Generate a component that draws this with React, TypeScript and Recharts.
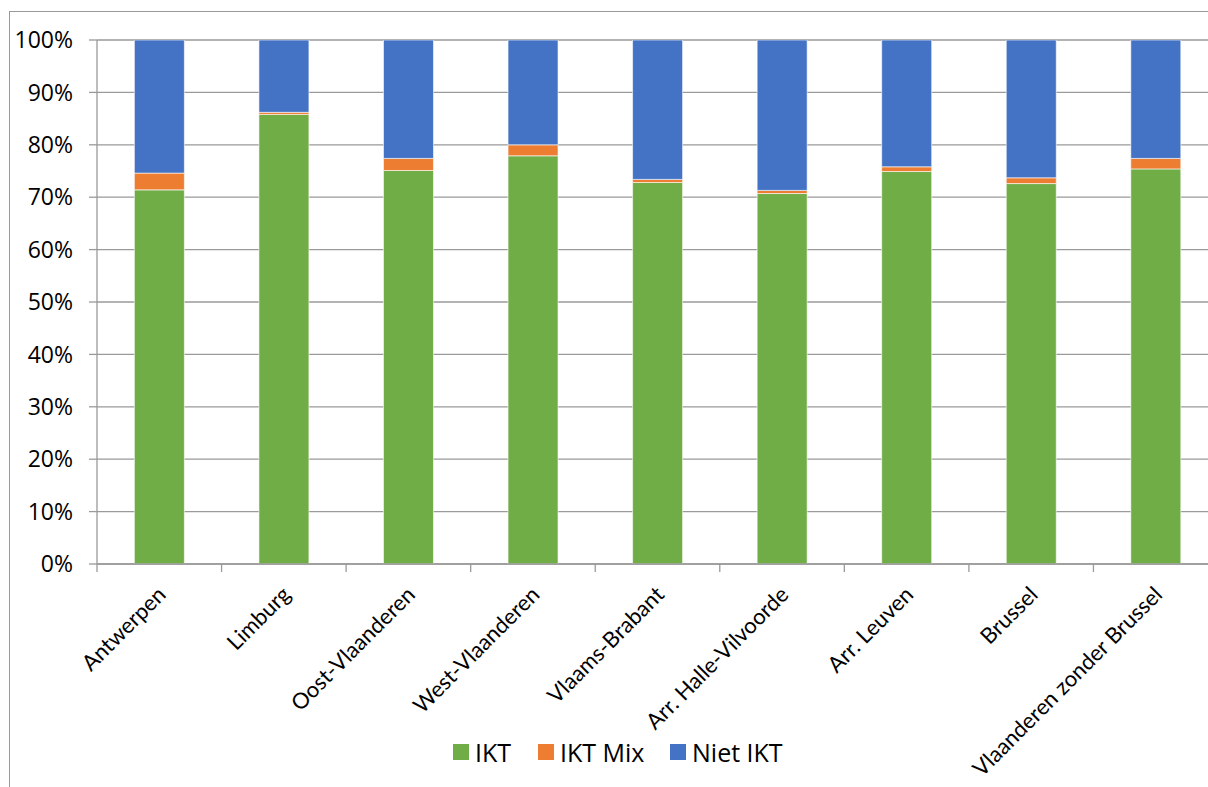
import React from 'react';
import { BarChart, Bar, XAxis, YAxis, CartesianGrid } from 'recharts';

const categories = [
  'Antwerpen',
  'Limburg',
  'Oost-Vlaanderen',
  'West-Vlaanderen',
  'Vlaams-Brabant',
  'Arr. Halle-Vilvoorde',
  'Arr. Leuven',
  'Brussel',
  'Vlaanderen zonder Brussel',
];
const iktValues = [71.4, 85.8, 75.1, 77.9, 72.8, 70.7, 74.9, 72.6, 75.4];
const iktMixValues = [3.2, 0.4, 2.3, 2.1, 0.6, 0.6, 0.9, 1.1, 2.0];
const nietIktValues = [25.4, 13.8, 22.6, 20.0, 26.6, 28.7, 24.2, 26.3, 22.6];
const yTicks = [0, 10, 20, 30, 40, 50, 60, 70, 80, 90, 100];

const series = [
  { key: 'ikt', name: 'IKT', color: '#70AD47', w: 85 },
  { key: 'mix', name: 'IKT Mix', color: '#ED7D31', w: 132 },
  { key: 'niet', name: 'Niet IKT', color: '#4472C4', w: 130 },
];

const data = categories.map((name, i) => ({
  name,
  ikt: iktValues[i],
  mix: iktMixValues[i],
  niet: nietIktValues[i],
}));

const FONT = '"Open Sans", sans-serif';
const LABEL_FONT = 'Lato, "Open Sans", sans-serif';
const AXIS_GRAY = '#9a9a9a';
const CHART_W = 1240;
const CHART_H = 800;
const PLOT_LEFT = 97;
const PLOT_RIGHT = 1218;
const BAND = (PLOT_RIGHT - PLOT_LEFT) / categories.length;

const XTick = (props: any) => {
  const { x, y, payload, index } = props;
  const last = index === categories.length - 1;
  const ax = x + 8;
  const ay = y + 32;
  return (
    <g>
      <line x1={x - BAND / 2} x2={x - BAND / 2} y1={y} y2={y + 8} stroke={AXIS_GRAY} strokeWidth={1.3} />
      {last && (
        <line x1={x + BAND / 2} x2={x + BAND / 2} y1={y} y2={y + 8} stroke={AXIS_GRAY} strokeWidth={1.3} />
      )}
      <text
        x={ax}
        y={ay}
        textAnchor="end"
        transform={`rotate(-45, ${ax}, ${ay})`}
        fontFamily={LABEL_FONT}
        fontSize={22}
        fill="#000"
      >
        {payload.value}
      </text>
    </g>
  );
};

export default function App() {
  return (
    <div style={{ position: 'fixed', left: 0, top: 0, width: 1208, height: 787, overflow: 'hidden', background: '#fff' }}>
      <div
        style={{
          position: 'absolute',
          left: 9,
          top: 11,
          width: 1400,
          height: 1000,
          borderLeft: `1.5px solid ${AXIS_GRAY}`,
          borderTop: `1.5px solid ${AXIS_GRAY}`,
        }}
      />
      <div style={{ position: 'absolute', left: 0, top: 0 }}>
        <BarChart
          width={CHART_W}
          height={CHART_H}
          data={data}
          margin={{ top: 40, right: CHART_W - PLOT_RIGHT, bottom: 0, left: 9 }}
          barCategoryGap="30%"
        >
          <CartesianGrid vertical={false} stroke={AXIS_GRAY} strokeWidth={1.3} />
          <XAxis
            dataKey="name"
            interval={0}
            height={CHART_H - 564}
            axisLine={{ stroke: AXIS_GRAY, strokeWidth: 1.3 }}
            tickLine={false}
            tickSize={0}
            tickMargin={0}
            tick={<XTick />}
          />
          <YAxis
            width={PLOT_LEFT - 9}
            domain={[0, 100]}
            ticks={yTicks}
            allowDataOverflow
            tickFormatter={(v: number) => `${v}%`}
            axisLine={{ stroke: AXIS_GRAY, strokeWidth: 1.3 }}
            tickLine={{ stroke: AXIS_GRAY, strokeWidth: 1.3 }}
            tickSize={8}
            tickMargin={16}
            tick={{ fontFamily: FONT, fontSize: 23, fill: '#000' }}
          />
          {series.map((s) => (
            <Bar
              key={s.key}
              dataKey={s.key}
              name={s.name}
              stackId="a"
              fill={s.color}
              stroke="#ffffff"
              strokeWidth={0.6}
              isAnimationActive={false}
            />
          ))}
        </BarChart>
      </div>
      <div
        style={{
          position: 'absolute',
          left: 453,
          top: 735,
          display: 'flex',
          alignItems: 'center',
          fontFamily: FONT,
          fontSize: 25,
          color: '#000',
          whiteSpace: 'nowrap',
        }}
      >
        {series.map((s) => (
          <div key={s.key} style={{ display: 'flex', alignItems: 'center', width: s.w }}>
            <span style={{ display: 'inline-block', width: 16, height: 16, background: s.color, marginRight: 6 }} />
            <span>{s.name}</span>
          </div>
        ))}
      </div>
    </div>
  );
}
